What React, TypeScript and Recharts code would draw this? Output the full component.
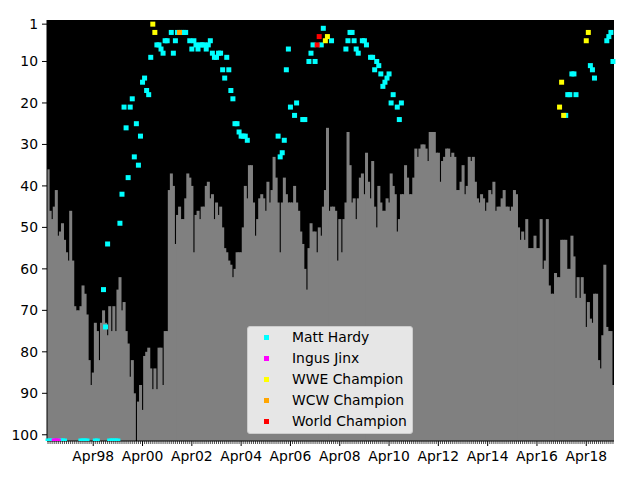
import React from "react";
import {
  ComposedChart,
  Bar,
  Scatter,
  XAxis,
  YAxis,
  CartesianGrid,
  Legend,
} from "recharts";

// monthly rank (top of the gray bar), starting Jun 1996; null = no entry that month
const barRanks: (number | null)[] = [
  36, 46, 48, 45, 41, 52, 51, 49, 53, 56,
  58, 46, 58, 69, 70, 70, 69, 64, 66, 71,
  82, 88, 85, 73, 75, 82, 73, 70, 73, 76,
  69, 75, 69, 75, 65, 62, 70, 68, 75, 78,
  86, 82, 90, null, 92, 88, 94, 81, 80, 79,
  84, 89, 84, 89, 79, 79, 88, 75, 75, 41,
  37, 40, 54, 47, 45, 48, 48, 43, 37, 38,
  40, 56, 47, 46, 48, 45, 45, 40, 39, 43,
  42, 48, 44, 47, 45, 50, 55, 56, 58, 59,
  62, 60, 56, 56, 56, 50, 40, 43, 35, 35,
  44, 52, 48, 43, 42, 43, 46, 39, 44, 41,
  33, 38, 44, 56, 44, 38, 42, 44, 44, 44,
  40, 44, 46, 51, 54, 60, 65, 55, 49, 51,
  51, 56, 50, 52, 45, 41, 26, 46, 45, 45,
  46, 58, 48, 56, 48, 44, 27, 35, 44, 43,
  48, 43, 38, 37, 42, 32, 39, 43, 34, 45,
  50, 40, 44, 46, 46, 43, 44, 37, 40, 42,
  51, 48, 42, 42, 35, 38, 42, 42, 38, 31,
  33, 31, 30, 30, 31, 34, 27, 27, 27, 32,
  32, 39, 34, 33, 31, 31, 33, 32, 33, 41,
  41, 39, 35, 42, 40, 33, 34, 33, 39, 43,
  44, 42, 43, 46, 44, 41, 42, 39, 46, 45,
  45, 43, 41, 45, 45, 46, 45, 41, 42, 50,
  53, 51, 53, 48, 55, 55, 55, 52, 55, 55,
  48, 60, 58, 48, 64, 66, 66, 61, 62, 62,
  53, 53, 53, 60, 60, 52, 57, 67, 62, 67,
  62, 66, 74, 68, 72, 73, 66, 66, 82, 84,
  76, 59, 74, 75, 75, 88,
];

const Y_MAX = 101.5;

// [month index, rank]; 101.5 = unranked (sits on the bottom edge)
const hardyPoints: [number, number][] = [
  [0, 101.5], [1, 101.5], [2, 101.5], [6, 101.5], [7, 101.5], [8, 101.5],
  [16, 101.5], [17, 101.5], [18, 101.5], [19, 101.5], [23, 101.5], [24, 101.5],
  [27, 65], [28, 74], [29, 54],
  [30, 101.5], [31, 101.5], [32, 101.5], [33, 101.5], [34, 101.5],
  [35, 49], [36, 42], [37, 21], [38, 26], [39, 38], [40, 21], [41, 19],
  [42, 33], [43, 25], [44, 35], [45, 28], [46, 15], [47, 14], [48, 17],
  [49, 18], [50, 9], [53, 6], [54, 6], [55, 7], [56, 8], [57, 5], [58, 5],
  [60, 3], [61, 8], [62, 5], [63, 3], [65, 3], [66, 3], [67, 3],
  [69, 5], [70, 7], [71, 5], [72, 6], [73, 7], [74, 6], [75, 6], [76, 6],
  [77, 7], [78, 6], [79, 5], [80, 8], [81, 9], [82, 9], [83, 8], [84, 8],
  [85, 12], [86, 14], [87, 9], [88, 12], [89, 17], [90, 19], [91, 25],
  [92, 25], [93, 27], [94, 28], [95, 28], [96, 28], [97, 29],
  [112, 28], [113, 33], [114, 32], [115, 29], [116, 12], [117, 7], [118, 21],
  [120, 23], [121, 20], [124, 24], [125, 24], [127, 10], [128, 8], [129, 6],
  [130, 10], [133, 6], [134, 2], [138, 5],
  [145, 7], [146, 5], [147, 3], [148, 3], [149, 5], [150, 7], [151, 8],
  [153, 5], [154, 5], [155, 6], [157, 9], [158, 9], [159, 12], [160, 10],
  [161, 11], [162, 13], [163, 16], [164, 15], [165, 14], [166, 13],
  [167, 20], [168, 18], [170, 21], [171, 24], [172, 20],
  [252, 23], [253, 18], [254, 18], [255, 13], [256, 13], [257, 18],
  [264, 11], [265, 12], [266, 14], [272, 5], [273, 4], [274, 3], [275, 10],
];
const jinxPoints: [number, number][] = [[3, 101.5], [4, 101.5], [5, 101.5]];
const wweChampionPoints: [number, number][] = [
  [51, 1], [52, 3], [135, 5], [136, 4], [249, 21], [250, 15], [251, 23],
  [262, 5], [263, 3],
];
const wcwChampionPoints: [number, number][] = [[64, 3]];
const worldChampionPoints: [number, number][] = [[131, 6], [132, 4]];

const yTicks = [1, 10, 20, 30, 40, 50, 60, 70, 80, 90, 100];
const xTickLabels = [
  "Apr98", "Apr00", "Apr02", "Apr04", "Apr06", "Apr08",
  "Apr10", "Apr12", "Apr14", "Apr16", "Apr18",
];

const MONTH_NAMES = ["Jan", "Feb", "Mar", "Apr", "May", "Jun", "Jul", "Aug", "Sep", "Oct", "Nov", "Dec"];
const months = barRanks.map((_, i) => {
  const n = 5 + i; // first bar is June 1996
  const yr = (1996 + Math.floor(n / 12)) % 100;
  return MONTH_NAMES[n % 12] + String(yr).padStart(2, "0");
});

const spread = (pts: [number, number][]) => {
  const out: (number | null)[] = months.map(() => null);
  pts.forEach(([i, r]) => (out[i] = r));
  return out;
};

const hardy = spread(hardyPoints);
const jinx = spread(jinxPoints);
const wwe = spread(wweChampionPoints);
const wcw = spread(wcwChampionPoints);
const world = spread(worldChampionPoints);

const rows = months.map((month, i) => ({
  month,
  rank: barRanks[i],
  hardy: hardy[i],
  jinx: jinx[i],
  wwe: wwe[i],
  wcw: wcw[i],
  world: world[i],
}));

const legendItems = [
  { name: "Matt Hardy", color: "#00ffff" },
  { name: "Ingus Jinx", color: "#ff00ff" },
  { name: "WWE Champion", color: "#ffff00" },
  { name: "WCW Champion", color: "#ffa500" },
  { name: "World Champion", color: "#ff0000" },
];

const FONT = "DejaVu Sans, sans-serif";
const PLOT_LEFT = 47;
const PLOT_RIGHT = 614;
const PLOT_BOTTOM = 441;

// bars are ~2px wide; widen each slightly so neighbours meet without seams
const GrayBar = (props: any) => {
  const { x, y, width, height } = props;
  if ([x, y, width, height].some((v) => v == null || Number.isNaN(v))) return <g />;
  const top = Math.min(y, y + height);
  const h = Math.abs(height);
  const left = Math.max(x - 0.4, PLOT_LEFT);
  const right = Math.min(x + width + 0.6, PLOT_RIGHT);
  return <rect x={left} y={top} width={right - left} height={h} fill="#808080" />;
};

const square = (color: string) => (props: any) => {
  const { cx, cy } = props;
  if (cx == null || cy == null || Number.isNaN(cy)) return <g />;
  const top = cy - 2.5;
  const bottom = Math.min(cy + 2.5, PLOT_BOTTOM);
  return <rect x={cx - 2.5} y={top} width={5} height={bottom - top} fill={color} />;
};

const MonthTick = (props: any) => {
  const { x, y, payload } = props;
  const major = xTickLabels.includes(payload.value);
  return (
    <g>
      <line
        x1={x}
        x2={x}
        y1={y}
        y2={y + (major ? 5 : 3)}
        stroke="#000"
        strokeWidth={major ? 1 : 0.7}
      />
      {major && (
        <text x={x} y={y + 20} textAnchor="middle" fontSize={13.9} fontFamily={FONT} fill="#000">
          {payload.value}
        </text>
      )}
    </g>
  );
};

const LegendBox = () => (
  <div
    style={{
      position: "relative",
      boxSizing: "border-box",
      width: 166,
      height: 108,
      background: "#e6e6e6",
      border: "1px solid #cccccc",
      borderRadius: 3,
      fontFamily: FONT,
      fontSize: 13.9,
      color: "#000",
    }}
  >
    {legendItems.map((item, i) => (
      <div
        key={item.name}
        style={{
          position: "absolute",
          left: 0,
          top: i * 21,
          height: 21,
          width: "100%",
          lineHeight: "21px",
        }}
      >
        <span
          style={{
            position: "absolute",
            left: 16,
            top: 8,
            width: 5,
            height: 5,
            background: item.color,
          }}
        />
        <span style={{ position: "absolute", left: 44, top: 0, whiteSpace: "nowrap" }}>
          {item.name}
        </span>
      </div>
    ))}
  </div>
);

export default function App() {
  return (
    <div style={{ position: "absolute", left: 0, top: 0, width: 640, height: 480, background: "#fff" }}>
      <ComposedChart
        width={640}
        height={480}
        data={rows}
        margin={{ top: 20, right: 26, bottom: 0, left: 0 }}
        barCategoryGap={0}
        barGap={0}
      >
        <CartesianGrid horizontal={false} vertical={false} fill="#000" fillOpacity={1} />
        <Bar
          dataKey={(d: any) => (d.rank == null ? null : [d.rank, Y_MAX])}
          fill="#808080"
          shape={GrayBar}
          isAnimationActive={false}
        />
        <XAxis
          dataKey="month"
          type="category"
          interval={0}
          height={39}
          tickSize={0}
          tickMargin={0}
          tickLine={false}
          axisLine={{ stroke: "#000" }}
          tick={<MonthTick />}
        />
        <YAxis
          type="number"
          domain={[0, Y_MAX]}
          reversed
          allowDataOverflow
          ticks={yTicks}
          interval={0}
          width={47}
          tickSize={5}
          tickMargin={4}
          axisLine={{ stroke: "#000" }}
          tickLine={{ stroke: "#000" }}
          tick={{ fontSize: 13.9, fill: "#000", fontFamily: FONT }}
        />
        <YAxis
          yAxisId="right"
          orientation="right"
          type="number"
          domain={[0, Y_MAX]}
          width={0}
          tick={false}
          tickLine={false}
          axisLine={{ stroke: "#000" }}
        />
        <Scatter dataKey="hardy" shape={square("#00ffff")} isAnimationActive={false} />
        <Scatter dataKey="jinx" shape={square("#ff00ff")} isAnimationActive={false} />
        <Scatter dataKey="wwe" shape={square("#ffff00")} isAnimationActive={false} />
        <Scatter dataKey="wcw" shape={square("#ffa500")} isAnimationActive={false} />
        <Scatter dataKey="world" shape={square("#ff0000")} isAnimationActive={false} />
        <Legend
          layout="vertical"
          align="center"
          verticalAlign="middle"
          content={() => <LegendBox />}
          wrapperStyle={{ left: 247, top: 326, width: 166, height: 108 }}
        />
      </ComposedChart>
    </div>
  );
}
